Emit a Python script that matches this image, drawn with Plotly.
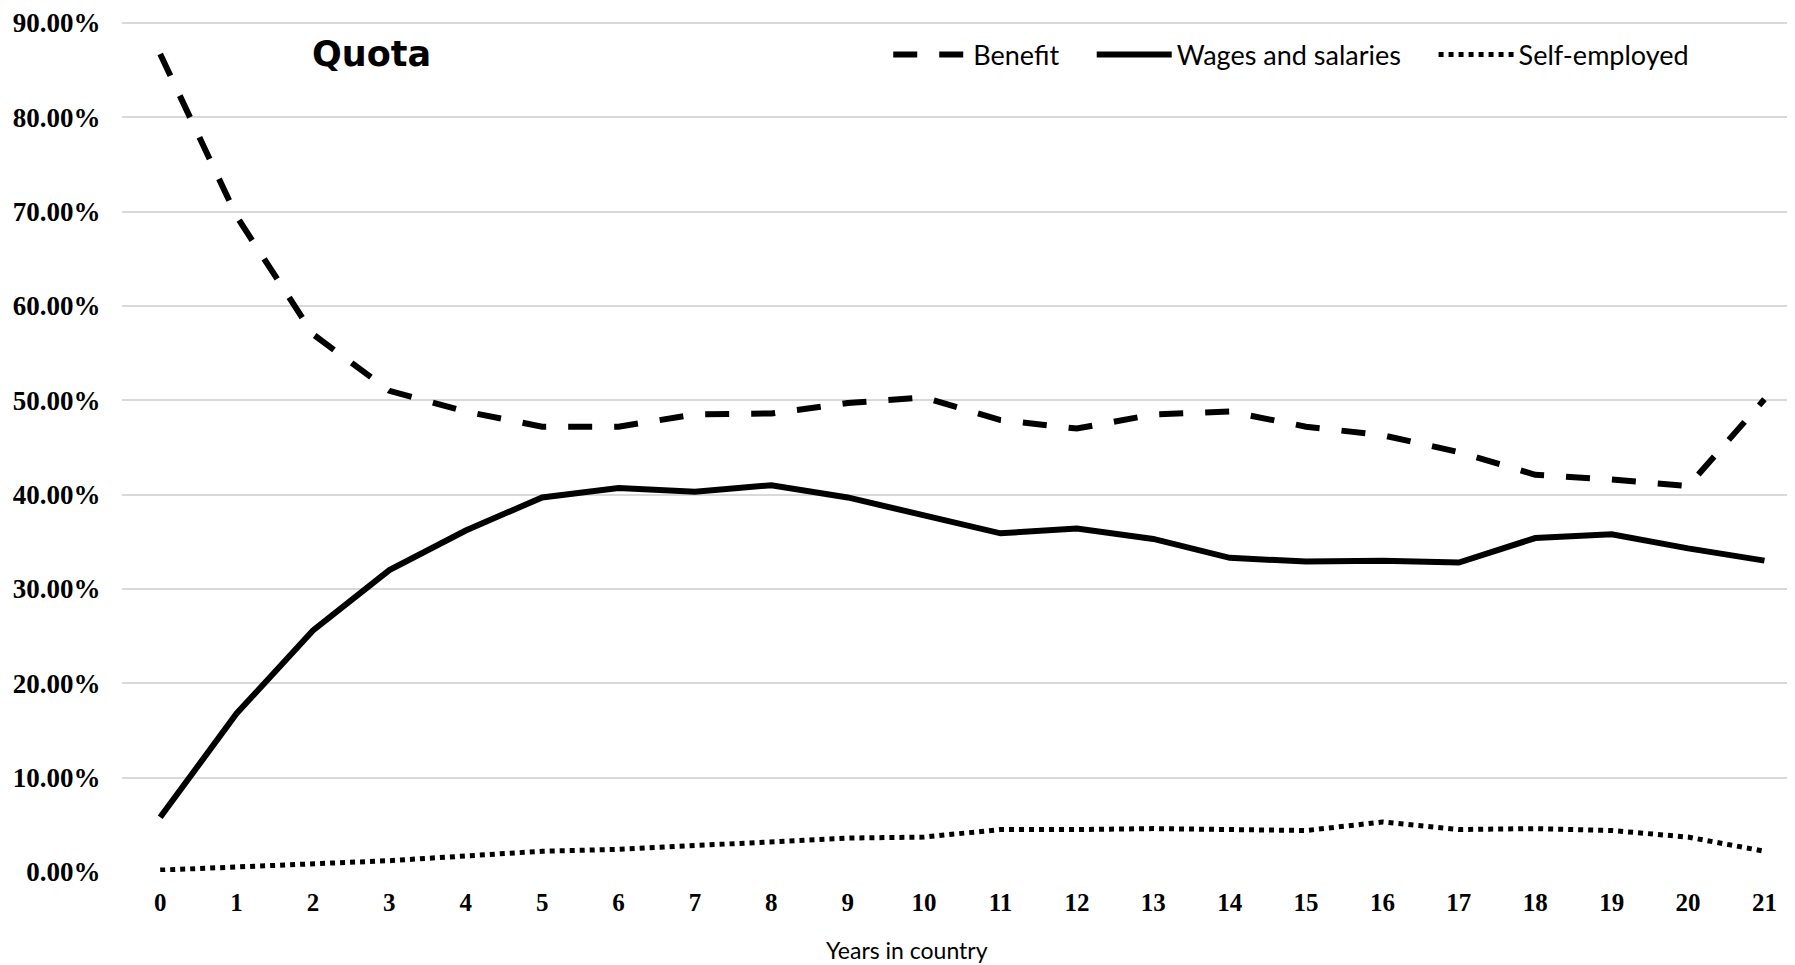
import plotly.graph_objects as go

years = list(range(22))
benefit = [86.7, 69.5, 57.0, 51.0, 48.8, 47.2, 47.2, 48.5, 48.6, 49.7, 50.3,
           47.9, 47.0, 48.5, 48.8, 47.2, 46.3, 44.5, 42.1, 41.6, 40.9, 50.1]
wages = [5.8, 16.8, 25.6, 32.0, 36.2, 39.7, 40.7, 40.3, 41.0, 39.7, 37.8,
         35.9, 36.4, 35.3, 33.3, 32.9, 33.0, 32.8, 35.4, 35.8, 34.3, 33.0]
self_emp = [0.2, 0.5, 0.8, 1.2, 1.7, 2.2, 2.4, 2.8, 3.3, 3.6, 3.7,
            4.5, 4.5, 4.6, 4.5, 4.4, 5.3, 4.5, 4.6, 4.4, 3.7, 2.2]
y_ticks = [0, 10, 20, 30, 40, 50, 60, 70, 80, 90]

def pct(v):
    return [x / 100 for x in v]

pad = "\u00a0" * 4

fig = go.Figure()
fig.add_trace(go.Scatter(x=years, y=pct(benefit), mode="lines", name="Benefit" + pad,
                         line=dict(color="black", width=6, dash="24px,22px")))
fig.add_trace(go.Scatter(x=years, y=pct(wages), mode="lines", name="Wages and salaries" + pad,
                         line=dict(color="black", width=6)))
fig.add_trace(go.Scatter(x=years, y=pct(self_emp), mode="lines", name="Self-employed",
                         line=dict(color="black", width=5, dash="5px,5px")))

fig.update_layout(
    width=1787, height=957,
    margin=dict(l=114, r=0, t=11, b=93),
    paper_bgcolor="white", plot_bgcolor="white",
    showlegend=True,
    legend=dict(orientation="h", x=0.458, y=0.96, xanchor="left", yanchor="middle",
                font=dict(family="Lato", size=27, color="black"),
                bgcolor="rgba(0,0,0,0)", itemwidth=75, tracegroupgap=0),
    annotations=[
        dict(text="<b>Quota</b>", x=0.149, y=0.961, xref="paper", yref="paper",
             xanchor="center", yanchor="middle", showarrow=False,
             font=dict(family="DejaVu Sans", size=35, color="black")),
        dict(text="Years in country", x=0.469, y=-0.0916, xref="paper", yref="paper",
             xanchor="center", yanchor="middle", showarrow=False,
             font=dict(family="Lato", size=23, color="black")),
    ],
)
fig.update_xaxes(
    range=[-0.5, 21.4], tickmode="array", tickvals=years, ticktext=[str(y) for y in years],
    showgrid=False, zeroline=False, showline=False,
    ticks="outside", ticklen=8, tickcolor="rgba(0,0,0,0)",
    tickfont=dict(family="Liberation Serif", size=25, color="black", weight="bold"),
)
fig.update_yaxes(
    range=[0, 0.902], tickmode="array", tickvals=pct(y_ticks), tickformat=".2%",
    showgrid=True, gridcolor="#d9d9d9", gridwidth=2, zeroline=False, showline=False,
    ticks="outside", ticklen=15, tickcolor="rgba(0,0,0,0)", ticklabeloverflow="allow",
    tickfont=dict(family="Liberation Serif", size=27, color="black", weight="bold"),
)

fig.write_html("out.html")
